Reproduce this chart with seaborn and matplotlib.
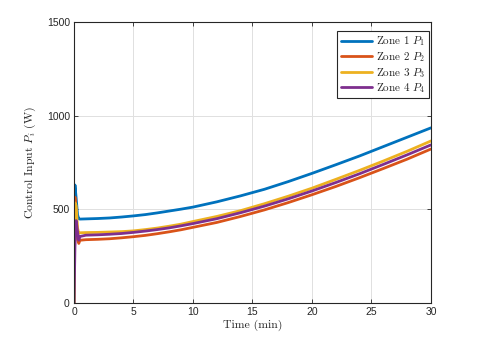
import numpy as np
import pandas as pd
import matplotlib
matplotlib.use("Agg")
import matplotlib.pyplot as plt
import seaborn as sns

# time samples (min)
time_min = [0, 0.08, 0.18, 0.3, 0.4, 0.5, 1, 2, 3, 4, 5, 6, 7, 8, 9, 10,
            12, 14, 16, 18, 20, 22, 24, 26, 28, 30]

# control input per zone (W)
zone1 = [0, 630, 560, 470, 450, 448, 449, 451, 454, 459, 465, 472, 481, 491, 501, 512,
         540, 572, 607, 648, 692, 738, 785, 835, 885, 935]
zone2 = [0, 565, 480, 340, 318, 335, 338, 340, 343, 348, 354, 361, 370, 380, 391, 404,
         430, 462, 497, 536, 578, 622, 669, 718, 768, 822]
zone3 = [0, 535, 520, 400, 372, 375, 376, 377, 379, 381, 385, 392, 400, 410, 421, 435,
         462, 493, 530, 570, 613, 660, 708, 758, 810, 865]
zone4 = [0, 300, 440, 380, 335, 355, 362, 364, 367, 371, 377, 384, 392, 401, 412, 424,
         450, 482, 517, 556, 598, 643, 690, 740, 791, 844]

labels = [r"Zone 1 $P_1$", r"Zone 2 $P_2$", r"Zone 3 $P_3$", r"Zone 4 $P_4$"]
colors = ["#0072BD", "#D95319", "#EDB120", "#7E2F8E"]

df = pd.concat([
    pd.DataFrame({"t": time_min, "P": vals, "zone": lab})
    for vals, lab in zip([zone1, zone2, zone3, zone4], labels)
])

sns.set_style("ticks")
plt.rcParams["font.family"] = ["Liberation Sans", "DejaVu Sans"]
plt.rcParams["mathtext.fontset"] = "cm"

fig = plt.figure(figsize=(4.99, 3.4), dpi=100)
ax = fig.add_axes([0.1483, 0.1088, 0.7154, 0.8265])

sns.lineplot(data=df, x="t", y="P", hue="zone", palette=colors,
             linewidth=2.0, ax=ax, sort=False)

ax.set_xlim(0, 30)
ax.set_ylim(0, 1500)
ax.set_xticks([0, 5, 10, 15, 20, 25, 30])
ax.set_yticks([0, 500, 1000, 1500])
ax.grid(True, color="#e0e0e0", linewidth=0.7)
ax.set_axisbelow(True)
ax.tick_params(direction="in", top=True, right=True, labelsize=7.5,
               length=3, width=0.6, pad=3, labelcolor="#262626")
for s in ax.spines.values():
    s.set_linewidth(0.8)
    s.set_color("#262626")

serif = {"family": "cmr10", "size": 8.5, "color": "#262626"}
ax.set_xlabel("Time (min)", fontdict=serif, labelpad=2)
ax.set_ylabel(r"Control Input $P_i$ (W)", fontdict=serif, labelpad=6)

leg = ax.legend(loc="upper right", bbox_to_anchor=(1.0, 0.975), frameon=True,
                fancybox=False, edgecolor="#262626", framealpha=1,
                prop={"family": "cmr10", "size": 8}, handlelength=2.8,
                borderpad=0.3, labelspacing=0.15, handletextpad=0.4,
                borderaxespad=0.2)
leg.get_frame().set_linewidth(0.8)

fig.savefig("out.png", dpi=100)
